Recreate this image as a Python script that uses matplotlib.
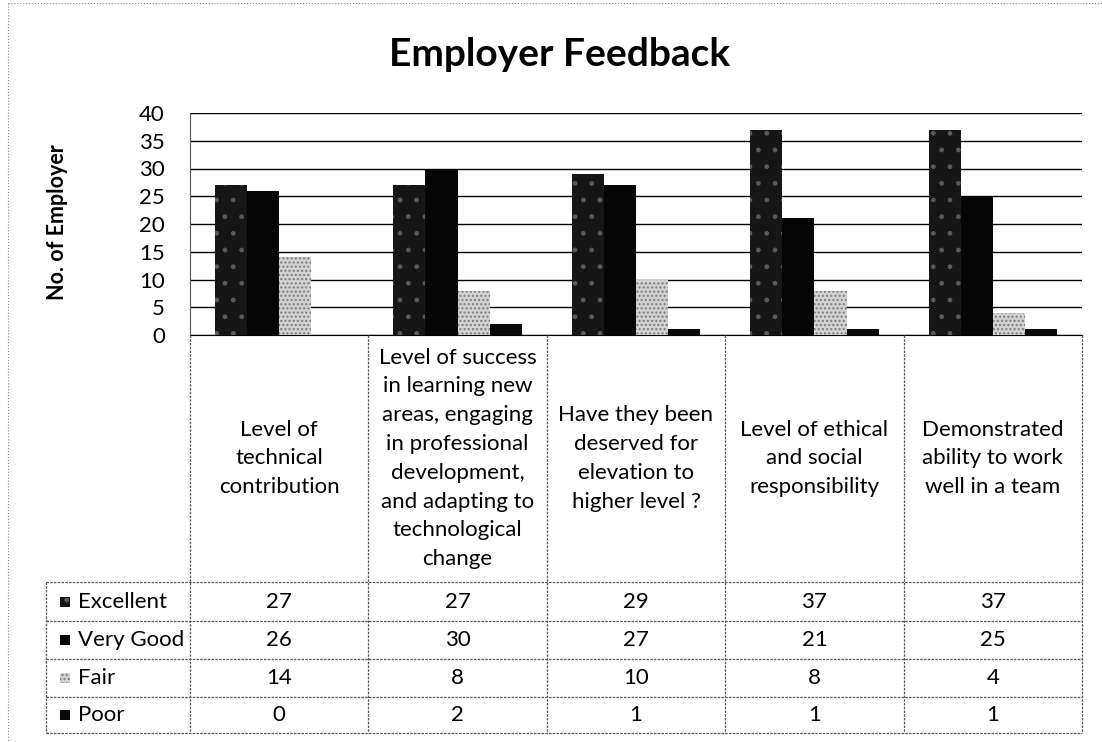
import numpy as np
import matplotlib.pyplot as plt
from matplotlib.patches import Rectangle

plt.rcParams['font.family'] = ['Lato', 'DejaVu Sans']
plt.rcParams['hatch.linewidth'] = 1.0

categories = [
    "Level of\ntechnical\ncontribution",
    "Level of success\nin learning new\nareas, engaging\nin professional\n"
    "development,\nand adapting to\ntechnological\nchange",
    "Have they been\ndeserved for\nelevation to\nhigher level ?",
    "Level of ethical\nand social\nresponsibility",
    "Demonstrated\nability to work\nwell in a team",
]
series = ["Excellent", "Very Good", "Fair", "Poor"]
excellent = [27, 27, 29, 37, 37]
very_good = [26, 30, 27, 21, 25]
fair = [14, 8, 10, 8, 4]
poor = [0, 2, 1, 1, 1]
y_ticks = [0, 5, 10, 15, 20, 25, 30, 35, 40]

# greyscale look of the scanned original
styles = [
    dict(facecolor="#161616", edgecolor="#5a5a5a", hatch="."),
    dict(facecolor="#050505", edgecolor="#050505", hatch=None),
    dict(facecolor="#d2d2d2", edgecolor="#7a7a7a", hatch="...."),
    dict(facecolor="#0a0a0a", edgecolor="#0a0a0a", hatch=None),
]

# layout in pixels of the 1102x742 canvas
W, H = 1102, 742
PLOT_L, PLOT_R = 190, 1082
PLOT_T, PLOT_B = 113, 335
TABLE_L = 46
ROW_EDGES = [582, 621, 659, 697, 733]
FS = 16
LINE_C = "#555555"
LINE_LS = (0, (2, 1))

fig = plt.figure(figsize=(W / 100, H / 100), dpi=100)
ax = fig.add_axes([PLOT_L / W, 1 - PLOT_B / H,
                   (PLOT_R - PLOT_L) / W, (PLOT_B - PLOT_T) / H])

x = np.arange(len(categories))
bar_w = 0.18
for i, (name, vals) in enumerate(zip(series, [excellent, very_good, fair, poor])):
    st = styles[i]
    ax.bar(x + (i - 1.5) * bar_w, vals, bar_w, label=name,
           color=st["facecolor"], edgecolor=st["edgecolor"],
           hatch=st["hatch"], linewidth=0, zorder=3)

ax.set_xlim(-0.5, len(categories) - 0.5)
ax.set_ylim(0, 40)
ax.set_yticks(y_ticks)
ax.set_xticks([])
ax.yaxis.grid(True, color="black", linewidth=1.0)
ax.set_axisbelow(True)
for side in ["top", "right"]:
    ax.spines[side].set_visible(False)
ax.spines["bottom"].set_color("black")
ax.spines["left"].set_color(LINE_C)
ax.spines["left"].set_linewidth(0.8)
ax.spines["left"].set_linestyle(LINE_LS)
ax.tick_params(axis="y", length=0, pad=18, labelsize=FS)

fig.text(560 / W, 1 - 55 / H, "Employer Feedback", ha="center", va="center",
         fontsize=28, fontweight="bold")
fig.text(57 / W, 1 - 222 / H, "No. of Employer", rotation=90, ha="center",
         va="center", fontsize=15.5, fontweight="bold")

# overlay in pixel coordinates for the data table below the plot
ov = fig.add_axes([0, 0, 1, 1])
ov.set_xlim(0, W)
ov.set_ylim(H, 0)
ov.axis("off")
ov.patch.set_alpha(0)

col_w = (PLOT_R - PLOT_L) / len(categories)
edges = PLOT_L + col_w * np.arange(len(categories) + 1)
centers = (edges[:-1] + edges[1:]) / 2

label_y = (PLOT_B + ROW_EDGES[0]) / 2
for cx, lab in zip(centers, categories):
    ov.text(cx, label_y, lab, ha="center", va="center", multialignment="center",
            fontsize=FS, linespacing=1.55)

for e in edges:
    ov.plot([e, e], [PLOT_B, ROW_EDGES[-1]], color=LINE_C, lw=0.9, ls=LINE_LS)
ov.plot([TABLE_L, TABLE_L], [ROW_EDGES[0], ROW_EDGES[-1]], color=LINE_C,
        lw=0.9, ls=LINE_LS)
for ry in ROW_EDGES:
    ov.plot([TABLE_L, PLOT_R], [ry, ry], color=LINE_C, lw=0.9, ls=LINE_LS)

for r, (name, vals) in enumerate(zip(series, [excellent, very_good, fair, poor])):
    yc = (ROW_EDGES[r] + ROW_EDGES[r + 1]) / 2
    st = styles[r]
    ov.add_patch(Rectangle((60, yc - 5), 10, 10, facecolor=st["facecolor"],
                           edgecolor=st["edgecolor"], hatch=st["hatch"], lw=0))
    ov.text(78, yc, name, ha="left", va="center", fontsize=FS)
    for cx, v in zip(centers, vals):
        ov.text(cx, yc, str(v), ha="center", va="center", fontsize=FS)

# chart area border (only left and top edges survive in the scan)
ov.plot([8, 8], [3, H], color="#888888", lw=0.8, ls=":")
ov.plot([8, W], [3, 3], color="#888888", lw=0.8, ls=":")

fig.savefig("out.png", dpi=100)
